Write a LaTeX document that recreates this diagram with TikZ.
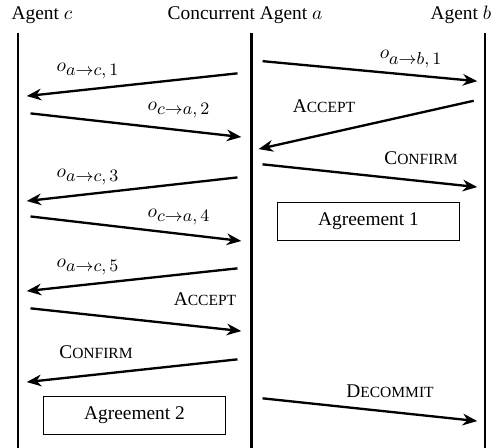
\documentclass[tikz,border=0pt]{standalone}
\usepackage{amsmath}
\usepackage{fontspec}
\setmainfont{Liberation Serif}
\usepackage{tikz}
\usetikzlibrary{arrows.meta}

\newcommand{\msc}[2]{#1{\footnotesize #2}}
\newcommand{\olab}[3]{$o_{\hbox{\small$#1{\rightarrow}#2,#3$}}$}

\begin{document}
\begin{tikzpicture}[x=0.5155pt,y=-0.5155pt,
    msg/.style={line width=1.2pt,-{Stealth[length=7.5pt,width=6pt,inset=2.4pt]},shorten <=6.5pt,shorten >=4.5pt},
    lifeline/.style={line width=0.6pt},
    agreement/.style={draw,line width=0.5pt,minimum width=94pt,minimum height=20pt,inner sep=0pt}]
    	\useasboundingbox (0,0) rectangle (498,448);

    	% agents
    	\node (tc) at (42,15) {Agent $c$};
    	\node (ta) at (245,15) {Concurrent Agent $a$};
    	\node[anchor=east] (tb) at (498,15) {Agent $b$};

    	\coordinate (ctop) at (18,33);
    	\coordinate (cbot) at (18,448);
    	\coordinate (atop) at (251.5,33);
    	\coordinate (abot) at (251.5,448);
    	\coordinate (btop) at (485,33);
    	\coordinate (bbot) at (485,448);

    	\draw[lifeline] (ctop) -- (cbot);
    	\draw[lifeline] (btop) -- (bbot);
    	\draw[line width=1.8pt] (atop) -- (abot);

    	% messages
    	\foreach \i/\xa/\ya/\xb/\yb in {1/250/72/18/97, 2/18/112/250/138, 3/250/60/486/82,
    			4/486/98/250/151, 5/250/163/486/188, 6/250/176/18/202, 7/18/215/250/242,
    			8/250/267/18/292, 9/18/307/250/332, 10/250/358/18/383, 11/250/397/486/422}{
    		\coordinate (m\i s) at (\xa,\ya);
    		\coordinate (m\i e) at (\xb,\yb);
    		\draw[msg] (m\i s) -- (m\i e);
    	}

    	\node (l1) at (88,71) {\olab{a}{c}{1}};
    	\node (l2) at (179,110) {\olab{c}{a}{2}};
    	\node (l3) at (411,59) {\olab{a}{b}{1}};
    	\node (l4) at (324,106) {\msc{A}{CCEPT}};
    	\node (l5) at (421,158) {\msc{C}{ONFIRM}};
    	\node (l6) at (88,177) {\olab{a}{c}{3}};
    	\node (l7) at (179,217) {\olab{c}{a}{4}};
    	\node (l8) at (88,267) {\olab{a}{c}{5}};
    	\node (l9) at (205,299) {\msc{A}{CCEPT}};
    	\node (l10) at (96,352) {\msc{C}{ONFIRM}};
    	\node (l11) at (390,391) {\msc{D}{ECOMMIT}};

    	\node[agreement] (ag1) at (368.5,221.5) {Agreement 1};
    	\node[agreement] (ag2) at (134.5,415.5) {Agreement 2};

\end{tikzpicture}
\end{document}
